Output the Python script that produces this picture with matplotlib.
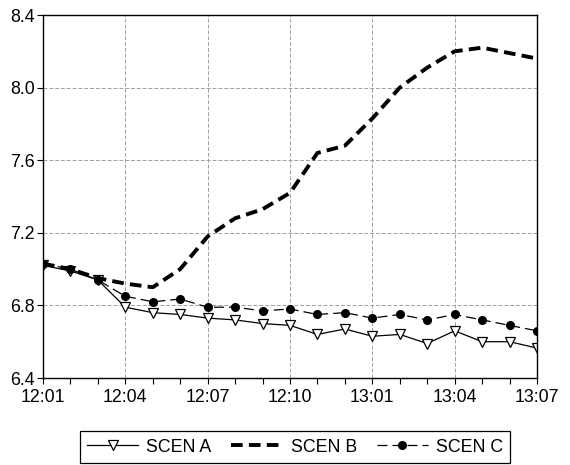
import matplotlib
matplotlib.use('Agg')
import matplotlib.pyplot as plt
import numpy as np

times = ['12:01', '12:02', '12:03', '12:04', '12:05', '12:06', '12:07', '12:08', '12:09', '12:10',
         '12:11', '12:12', '13:01', '13:02', '13:03', '13:04', '13:05', '13:06', '13:07']
scen_a = [7.02, 6.99, 6.94, 6.79, 6.76, 6.75, 6.73, 6.72, 6.70, 6.69,
          6.64, 6.67, 6.63, 6.64, 6.59, 6.66, 6.60, 6.60, 6.565]
scen_b = [7.03, 7.00, 6.95, 6.92, 6.90, 7.00, 7.18, 7.28, 7.33, 7.42,
          7.64, 7.68, 7.83, 8.00, 8.11, 8.20, 8.22, 8.19, 8.16]
scen_c = [7.03, 7.00, 6.94, 6.85, 6.82, 6.835, 6.79, 6.79, 6.77, 6.78,
          6.75, 6.76, 6.73, 6.75, 6.72, 6.75, 6.72, 6.69, 6.66]

plt.rcParams['font.family'] = ['Liberation Sans', 'DejaVu Sans']
plt.rcParams['font.size'] = 12.8


def plot_scenarios():
    fig = plt.figure(figsize=(5.7, 4.65), dpi=100)
    ax = fig.add_axes([43 / 570, 1 - 378 / 465, (537 - 43) / 570, (378 - 15) / 465])
    x = np.arange(len(times))

    ax.plot(x, scen_a, color='black', linewidth=0.9, marker='v', markersize=6.5,
            markerfacecolor='white', markeredgecolor='black', markeredgewidth=0.9, label='SCEN A')
    ax.plot(x, scen_b, color='black', linewidth=2.8, linestyle=(0, (3, 1.6)), label='SCEN B')
    ax.plot(x, scen_c, color='black', linewidth=0.9, linestyle=(0, (8, 4)), marker='o', markersize=5.5,
            markerfacecolor='black', label='SCEN C')

    ax.set_xlim(0, len(times) - 1)
    ax.set_ylim(6.4, 8.4)
    ax.set_xticks(x[::3])
    ax.set_xticklabels(times[::3])
    ax.set_xticks(x, minor=True)
    ax.set_yticks(np.arange(6.4, 8.41, 0.4))
    ax.set_yticklabels(['%.1f' % v for v in np.arange(6.4, 8.41, 0.4)])
    ax.tick_params(which='both', direction='out', length=4, width=0.8, colors='black')
    ax.tick_params(axis='x', pad=4)
    ax.tick_params(axis='y', pad=2)

    ax.set_axisbelow(True)
    ax.grid(which='major', linestyle=(0, (4, 2)), linewidth=0.7, color='#a0a0a0')
    for s in ax.spines.values():
        s.set_linewidth(1.0)
        s.set_color('black')

    leg = fig.legend(loc='center', bbox_to_anchor=(295 / 570, 1 - 447 / 465), ncol=3, frameon=True,
                     fancybox=False, edgecolor='black', framealpha=1, handlelength=2.9,
                     handletextpad=0.45, columnspacing=1.1, borderpad=0.4)
    leg.get_frame().set_linewidth(0.9)

    fig.savefig('out.png', dpi=100)


def main():
    plot_scenarios()


if __name__ == '__main__':
    main()
